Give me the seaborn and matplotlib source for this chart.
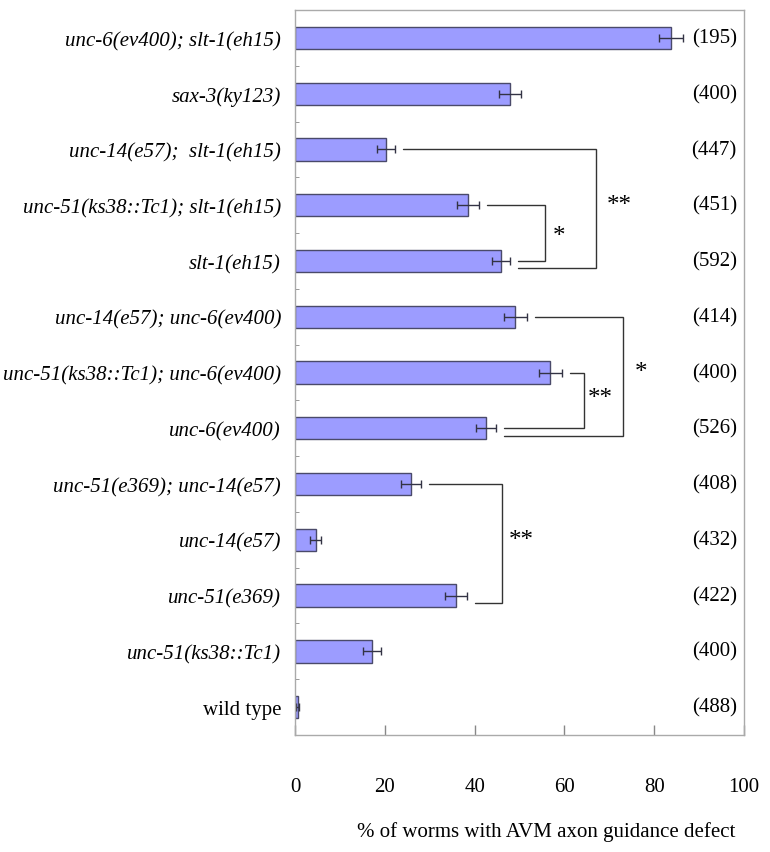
import matplotlib
matplotlib.use("Agg")
import matplotlib.pyplot as plt
import matplotlib.transforms as mtransforms
import seaborn as sns
import pandas as pd

# Strains, top to bottom as in the figure
strains = [
    "unc-6(ev400); slt-1(eh15)",
    "sax-3(ky123)",
    "unc-14(e57);  slt-1(eh15)",
    "unc-51(ks38::Tc1); slt-1(eh15)",
    "slt-1(eh15)",
    "unc-14(e57); unc-6(ev400)",
    "unc-51(ks38::Tc1); unc-6(ev400)",
    "unc-6(ev400)",
    "unc-51(e369); unc-14(e57)",
    "unc-14(e57)",
    "unc-51(e369)",
    "unc-51(ks38::Tc1)",
    "wild type",
]
defect_pct = [83.7, 47.9, 20.3, 38.5, 45.9, 49.1, 56.9, 42.5, 25.8, 4.6, 35.8, 17.1, 0.6]
sem = [2.7, 2.4, 2.0, 2.4, 2.0, 2.6, 2.6, 2.2, 2.3, 1.2, 2.4, 2.0, 0.3]
n_worms = [195, 400, 447, 451, 592, 414, 400, 526, 408, 432, 422, 400, 488]

# comparisons: (row a, row b, bracket x, label, label x, label y)
comparisons = [
    (2, 4, 67.0, "**", 72.2, 3.0),
    (3, 4, 55.7, "*", 58.8, 3.55),
    (5, 7, 73.0, "*", 77.0, 6.0),
    (6, 7, 64.4, "**", 68.1, 6.45),
    (8, 10, 46.1, "**", 50.5, 9.0),
]

df = pd.DataFrame({"strain": strains, "pct": defect_pct, "sem": sem, "n": n_worms})

sns.set_style("white")
plt.rcParams["font.family"] = ["Liberation Serif", "DejaVu Serif"]
plt.rcParams["text.color"] = "black"
plt.rcParams["xtick.color"] = "#888888"
plt.rcParams["ytick.color"] = "#888888"
plt.rcParams["xtick.labelcolor"] = "black"
plt.rcParams["ytick.labelcolor"] = "black"

fig = plt.figure(figsize=(7.7, 8.53), dpi=100)
ax = fig.add_axes([295 / 770, 1 - 736 / 853, 449 / 770, 725 / 853])

sns.barplot(data=df, x="pct", y="strain", orient="h", color="#9c9cff",
            edgecolor="#4a4a6a", linewidth=1.0, width=0.4, ax=ax,
            saturation=1, errorbar=None)
ax.errorbar(df["pct"], range(len(df)), xerr=df["sem"], fmt="none",
            ecolor="#333344", elinewidth=1.0, capsize=3.2, capthick=1.0)

ax.set_xlim(0, 100)
ax.set_ylim(len(df) - 0.5, -0.5)
ax.set_xticks([0, 20, 40, 60, 80, 100])
ax.tick_params(axis="x", bottom=True, direction="in", length=7, width=1,
               color="#888888", labelcolor="black", pad=30, labelsize=15)
ax.tick_params(axis="y", which="major", left=True, length=0, pad=10,
               labelcolor="black", labelsize=15)
ax.set_yticks([i + 0.5 for i in range(len(df) - 1)], minor=True)
ax.tick_params(axis="y", which="minor", left=True, direction="in", length=3,
               color="#888888")
for lab in ax.get_yticklabels():
    if lab.get_text() != "wild type":
        lab.set_fontstyle("italic")
ax.set_xlabel("")
ax.set_ylabel("")
for sp in ax.spines.values():
    sp.set_visible(True)
    sp.set_color("#aaaaaa")
    sp.set_linewidth(1.0)

# sample sizes along right side
trans = mtransforms.blended_transform_factory(ax.transAxes, ax.transData)
for i, n in enumerate(n_worms):
    ax.text(0.984, i, f"({n})", transform=trans, ha="right", va="center",
            fontsize=15, color="black")

# significance brackets
gap = 1.8
for a, b, bx, lab, lx, ly in comparisons:
    ya = a
    yb = b + (0.13 if b - a == 2 else 0)
    xa = defect_pct[a] + sem[a] + gap
    xb = defect_pct[b] + sem[b] + gap
    ax.plot([xa, bx, bx, xb], [ya, ya, yb, yb], color="#333333", lw=1.0,
            solid_joinstyle="miter")
    ax.text(lx, ly, lab, ha="center", va="center", fontsize=18, color="black")

fig.text(546 / 770, 1 - 832 / 853, "% of worms with AVM axon guidance defect",
         ha="center", va="center", fontsize=15, color="black")

fig.savefig("out.png", dpi=100)
